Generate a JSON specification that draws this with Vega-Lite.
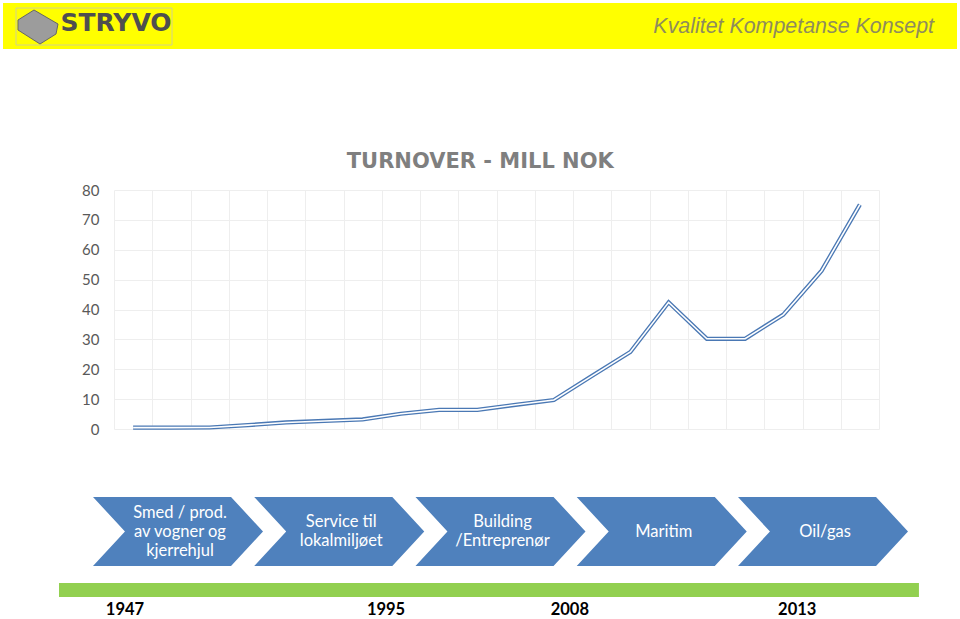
{
  "$schema": "https://vega.github.io/schema/vega-lite/v6.json",
  "padding": {"left": 3, "top": 3, "right": 3, "bottom": 0},
  "background": "white",
  "spacing": 0,
  "bounds": "full",
  "config": {"view": {"stroke": null}, "font": "Lato"},
  "vconcat": [
    {
      "width": 954,
      "height": 46,
      "view": {"fill": "#ffff00", "stroke": null},
      "data": {"values": [{"brand": "STRYVO", "slogan": "Kvalitet Kompetanse Konsept"}]},
      "layer": [
        {
          "mark": {"type": "rect", "fillOpacity": 0, "stroke": "#d2d28e", "strokeWidth": 1},
          "encoding": {
            "x": {"datum": 13, "type": "quantitative", "scale": {"domain": [0, 954], "nice": false, "zero": false}, "axis": null},
            "x2": {"datum": 169},
            "y": {"datum": 5, "type": "quantitative", "scale": {"domain": [46, 0], "nice": false, "zero": false}, "axis": null},
            "y2": {"datum": 42}
          }
        },
        {
          "mark": {"type": "point", "shape": "M-1,-0.35L-0.2,-0.85L1,-0.15L0.9,0.35L0.1,0.85L-1,0.15Z", "filled": true, "fill": "#9c9c9c", "stroke": "#666666", "strokeWidth": 1, "opacity": 1, "size": 1600},
          "encoding": {
            "x": {"datum": 35, "type": "quantitative"},
            "y": {"datum": 24, "type": "quantitative"}
          }
        },
        {
          "mark": {"type": "text", "align": "center", "baseline": "middle", "font": "DejaVu Sans", "fontWeight": "bold", "fontSize": 25, "fill": "#4f4f4f"},
          "encoding": {
            "x": {"datum": 113, "type": "quantitative"},
            "y": {"datum": 20, "type": "quantitative"},
            "text": {"field": "brand"}
          }
        },
        {
          "mark": {"type": "text", "align": "right", "baseline": "middle", "font": "Liberation Sans", "fontStyle": "italic", "fontSize": 21.4, "fill": "#8f8c5c"},
          "encoding": {
            "x": {"datum": 931, "type": "quantitative"},
            "y": {"datum": 24, "type": "quantitative"},
            "text": {"field": "slogan"}
          }
        }
      ]
    },
    {
      "width": 954,
      "height": 102,
      "data": {"values": [{}]},
      "mark": {"type": "text"},
      "encoding": {"text": {"value": ""}}
    },
    {
      "bounds": "flush",
      "spacing": 0,
      "hconcat": [
        {
          "width": 111,
          "height": 247,
          "data": {"values": [{}]},
          "mark": {"type": "text"},
          "encoding": {"text": {"value": ""}}
        },
        {
          "width": 765,
          "height": 239,
          "title": {"text": "TURNOVER - MILL NOK", "frame": "bounds", "anchor": "middle", "fontSize": 21, "fontWeight": "bold", "color": "#7f7f7f", "font": "DejaVu Sans", "offset": 11},
          "data": {"values": [
            {"period": 1, "turnover": 0.45},
            {"period": 2, "turnover": 0.45},
            {"period": 3, "turnover": 0.5},
            {"period": 4, "turnover": 1.3},
            {"period": 5, "turnover": 2.2},
            {"period": 6, "turnover": 2.7},
            {"period": 7, "turnover": 3.2},
            {"period": 8, "turnover": 5.1},
            {"period": 9, "turnover": 6.4},
            {"period": 10, "turnover": 6.4},
            {"period": 11, "turnover": 8.1},
            {"period": 12, "turnover": 9.7},
            {"period": 13, "turnover": 17.8},
            {"period": 14, "turnover": 25.8},
            {"period": 15, "turnover": 42.4},
            {"period": 16, "turnover": 30.2},
            {"period": 17, "turnover": 30.2},
            {"period": 18, "turnover": 38.3},
            {"period": 19, "turnover": 53.0},
            {"period": 20, "turnover": 75.1}
          ]},
          "encoding": {
            "x": {
              "field": "period", "type": "quantitative",
              "scale": {"domain": [0.5, 20.5], "nice": false, "zero": false},
              "axis": {"values": [0.5, 1.5, 2.5, 3.5, 4.5, 5.5, 6.5, 7.5, 8.5, 9.5, 10.5, 11.5, 12.5, 13.5, 14.5, 15.5, 16.5, 17.5, 18.5, 19.5, 20.5], "grid": true, "gridColor": "#eeeeee", "gridWidth": 1, "labels": false, "ticks": false, "domain": false, "title": null}
            },
            "y": {
              "field": "turnover", "type": "quantitative",
              "scale": {"domain": [0, 80], "nice": false, "zero": true},
              "axis": {"values": [0, 10, 20, 30, 40, 50, 60, 70, 80], "grid": true, "gridColor": "#eeeeee", "gridWidth": 1, "ticks": false, "domain": false, "title": null, "labelFont": "Lato", "labelFontSize": 15, "labelColor": "#595959", "labelPadding": 15}
            }
          },
          "layer": [
            {"mark": {"type": "line", "stroke": "#4a78b4", "strokeWidth": 4.2, "strokeJoin": "miter"}},
            {"mark": {"type": "line", "stroke": "#ffffff", "strokeWidth": 1.6, "strokeJoin": "miter"}}
          ]
        }
      ]
    },
    {
      "width": 954,
      "height": 181,
      "layer": [
        {
          "data": {"values": [
            {"stage": 1, "label": "Smed / prod.\nav vogner og\nkjerrehjul"},
            {"stage": 2, "label": "Service til\nlokalmiljøet"},
            {"stage": 3, "label": "Building\n/Entreprenør"},
            {"stage": 4, "label": "Maritim"},
            {"stage": 5, "label": "Oil/gas"}
          ]},
          "encoding": {
            "x": {"field": "stage", "type": "quantitative", "scale": {"domain": [-0.0853, 5.831], "nice": false, "zero": false}, "axis": null},
            "y": {"datum": 102.5, "type": "quantitative", "scale": {"domain": [189, 8], "nice": false, "zero": false}, "axis": null}
          },
          "layer": [
            {
              "mark": {"type": "point", "shape": "M-1,-0.406L0.624,-0.406L1,0L0.624,0.406L-1,0.406L-0.624,0Z", "filled": true, "fill": "#4f81bd", "strokeWidth": 0, "opacity": 1, "size": 28900}
            },
            {
              "transform": [{"filter": "length(split(datum.label, '\\n')) == 1"}],
              "mark": {"type": "text", "align": "center", "baseline": "middle", "font": "Lato", "fontSize": 16.5, "fill": "#ffffff", "dx": 2},
              "encoding": {"text": {"field": "label"}}
            },
            {
              "transform": [{"filter": "length(split(datum.label, '\\n')) == 2"}],
              "mark": {"type": "text", "align": "center", "baseline": "middle", "lineBreak": "\n", "lineHeight": 19, "font": "Lato", "fontSize": 16.5, "fill": "#ffffff", "dx": 2, "dy": -9.5},
              "encoding": {"text": {"field": "label"}}
            },
            {
              "transform": [{"filter": "length(split(datum.label, '\\n')) == 3"}],
              "mark": {"type": "text", "align": "center", "baseline": "middle", "lineBreak": "\n", "lineHeight": 19, "font": "Lato", "fontSize": 16.5, "fill": "#ffffff", "dx": 2, "dy": -19},
              "encoding": {"text": {"field": "label"}}
            }
          ]
        },
        {
          "data": {"values": [{"era": "timeline"}]},
          "mark": {"type": "rect", "fill": "#92d050"},
          "encoding": {
            "x": {"datum": 0.262, "type": "quantitative"},
            "x2": {"datum": 5.595},
            "y": {"datum": 154, "type": "quantitative"},
            "y2": {"datum": 168}
          }
        },
        {
          "data": {"values": [
            {"year": "1947", "stage": 0.671},
            {"year": "1995", "stage": 2.29},
            {"year": "2008", "stage": 3.43},
            {"year": "2013", "stage": 4.84}
          ]},
          "mark": {"type": "text", "align": "center", "baseline": "middle", "font": "Lato", "fontWeight": "bold", "fontSize": 16.5, "fill": "#000000"},
          "encoding": {
            "x": {"field": "stage", "type": "quantitative"},
            "y": {"datum": 181, "type": "quantitative"},
            "text": {"field": "year"}
          }
        }
      ]
    }
  ]
}
